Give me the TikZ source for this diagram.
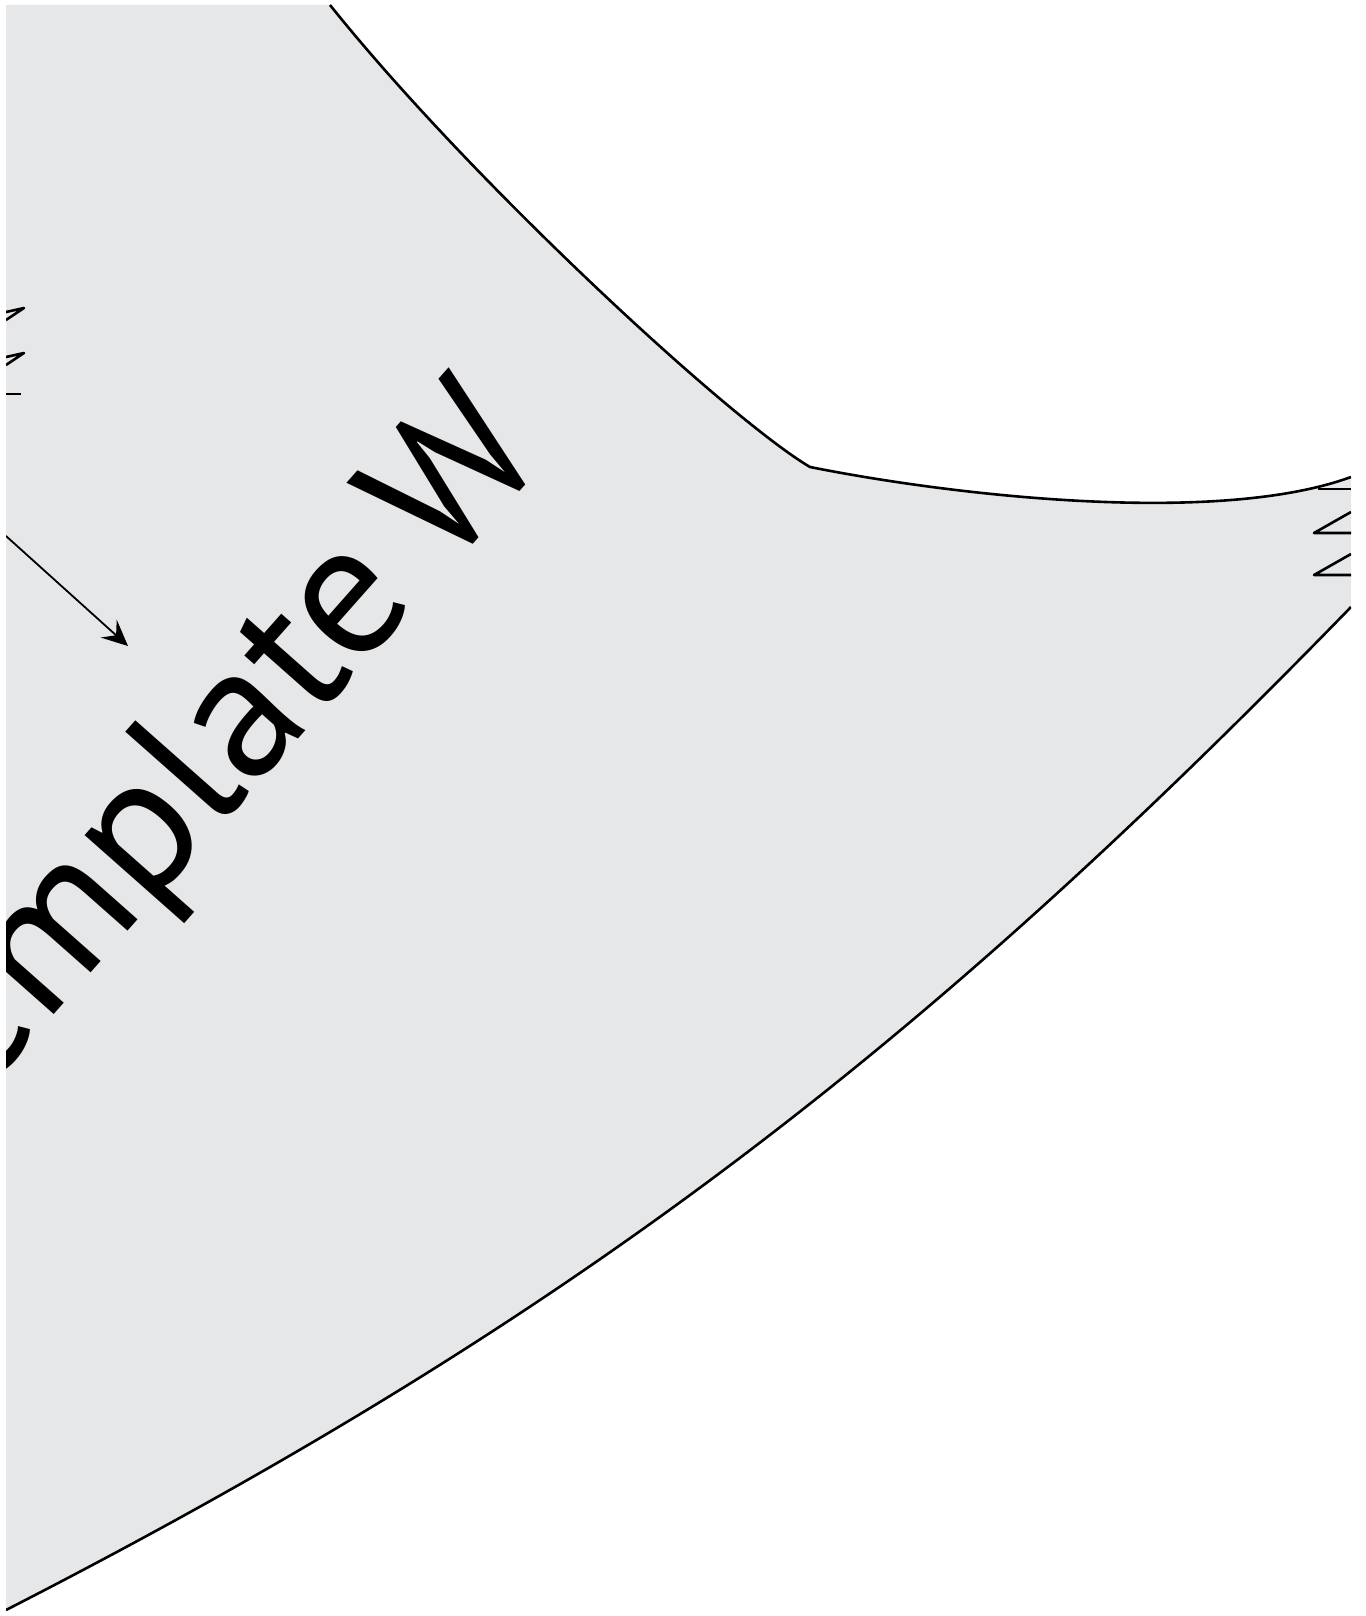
\documentclass[tikz,border=0pt]{standalone}
\usepackage{fontspec}
\setmainfont{PT Sans}
\usetikzlibrary{arrows.meta}
\definecolor{sheetgray}{RGB}{230,231,233}

\begin{document}
\begin{tikzpicture}[x=0.5pt, y=-0.5pt, line join=round]
\useasboundingbox (0,0) rectangle (1365,1616);
\clip (6,5) rectangle (1351,1616);
% grey band
\fill[sheetgray] (6,5) -- (330,5) .. controls (470,180) and (730,420) .. (810,467)
  .. controls (960,497) and (1220,525) .. (1351,477) -- (1351,607)
  .. controls (931,1039) and (584,1314) .. (6,1610) -- cycle;
% band edges
\draw[line width=1.3pt] (330,5) .. controls (470,180) and (730,420) .. (810,467)
  .. controls (960,497) and (1220,525) .. (1351,477);
\draw[line width=1.3pt] (1351,607) .. controls (931,1039) and (584,1314) .. (6,1610);
% cut-off marks, left
\foreach \y in {308,353}
  \draw[line width=1.3pt] (6,\y+4) -- (24,\y) -- (6,\y+12);
\draw[line width=1.3pt] (6,394) -- (21,394);
% cut-off marks, right
\draw[line width=1.3pt] (1318,489) -- (1351,489);
\foreach \y in {512,554}
  \draw[line width=1.3pt] (1351,\y) -- (1314,\y+21) -- (1351,\y+21);
% label
\node[rotate=48.5, anchor=base east, inner sep=0pt,
  font=\fontsize{95}{100}\selectfont] (tmpl) at (550,454) {Template\kern-0.06em\ W};
\coordinate (arrtail) at (6,536);
\coordinate (arrtip) at (128,646);
\draw[line width=0.9pt, -{Stealth[length=13pt,width=12pt,inset=5pt]}] (arrtail) -- (arrtip);
\end{tikzpicture}
\end{document}
